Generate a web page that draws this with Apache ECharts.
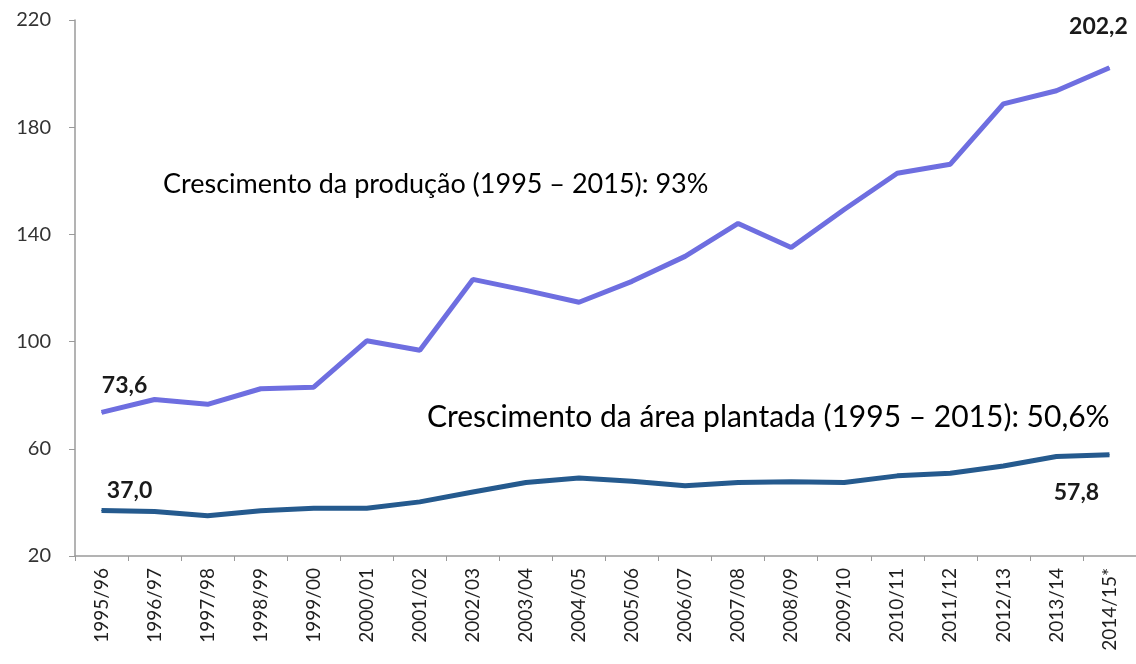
<!DOCTYPE html>
<html>
<head>
<meta charset="utf-8">
<script src="https://cdn.jsdelivr.net/npm/echarts@6/dist/echarts.min.js"></script>
<style>
  html, body { margin: 0; padding: 0; background: #fff; }
  #chart { width: 1136px; height: 664px; }
</style>
</head>
<body>
<div id="chart"></div>
<script>
// safras
const safras = ['1995/96','1996/97','1997/98','1998/99','1999/00','2000/01','2001/02','2002/03','2003/04','2004/05',
  '2005/06','2006/07','2007/08','2008/09','2009/10','2010/11','2011/12','2012/13','2013/14','2014/15*'];
// produção (milhões t)
const producao = [73.6,78.4,76.6,82.4,83.0,100.3,96.8,123.2,119.1,114.7,122.5,131.8,144.1,135.1,149.3,162.8,166.2,188.7,193.6,202.2];
// área plantada (milhões ha)
const area = [37.0,36.6,35.0,36.9,37.8,37.8,40.2,43.9,47.4,49.1,47.9,46.2,47.4,47.7,47.4,49.9,50.9,53.6,57.1,57.8];
const yTicks = [20,60,100,140,180,220];

const fmt = v => v.toFixed(1).replace('.', ',');
const lblFont = { fontFamily: 'Lato', fontWeight: 'bold', fontSize: 23, color: '#1a1a1a' };

// só o primeiro e o último ponto levam rótulo
function withLabels(values, first, last) {
  return values.map((v, i) => {
    if (i === 0) return { value: v, label: Object.assign({ show: true }, lblFont, first) };
    if (i === values.length - 1) return { value: v, label: Object.assign({ show: true }, lblFont, last) };
    return v;
  });
}

const chart = echarts.init(document.getElementById('chart'));
chart.setOption({
  animation: false,
  grid: { left: 75, right: -8, top: 20, bottom: 108 },
  xAxis: {
    type: 'category',
    data: safras,
    boundaryGap: true,
    axisLine: { lineStyle: { color: '#9a9a9a', width: 1.5 } },
    axisTick: { show: true, length: 5, lineStyle: { color: '#9a9a9a' } },
    axisLabel: { rotate: 90, interval: 0, margin: 12, fontFamily: 'Lato', fontSize: 19, color: '#1e1e1e' }
  },
  yAxis: {
    type: 'value',
    min: yTicks[0],
    max: yTicks[yTicks.length - 1],
    interval: 40,
    splitLine: { show: false },
    axisLine: { show: true, lineStyle: { color: '#9a9a9a', width: 1.5 } },
    axisTick: { show: true, length: 6, lineStyle: { color: '#9a9a9a' } },
    axisLabel: { margin: 24, fontFamily: 'Lato', fontSize: 20, color: '#333' }
  },
  series: [
    {
      name: 'Produção',
      type: 'line',
      data: withLabels(producao,
        { position: 'top', offset: [23, -10], formatter: p => fmt(p.value) },
        { position: 'top', offset: [-11, -24], formatter: p => fmt(p.value) }),
      symbol: 'circle',
      symbolSize: 1,
      showAllSymbol: true,
      lineStyle: { color: '#6e6ee0', width: 5 },
      itemStyle: { color: '#6e6ee0' }
    },
    {
      name: 'Área',
      type: 'line',
      data: withLabels(area,
        { position: 'top', offset: [28, -3], formatter: p => fmt(p.value) },
        { position: 'bottom', offset: [-33, 21], formatter: p => fmt(p.value) }),
      symbol: 'circle',
      symbolSize: 1,
      showAllSymbol: true,
      lineStyle: { color: '#255a8e', width: 5 },
      itemStyle: { color: '#255a8e' }
    }
  ],
  graphic: [
    {
      type: 'text', left: 163, top: 171,
      style: { text: 'Crescimento da produção (1995 – 2015): 93%', font: '27px Lato', fill: '#000' }
    },
    {
      type: 'text', left: 427, top: 402,
      style: { text: 'Crescimento da área plantada (1995 – 2015): 50,6%', font: '30px Lato', fill: '#000' }
    }
  ]
});
</script>
</body>
</html>
